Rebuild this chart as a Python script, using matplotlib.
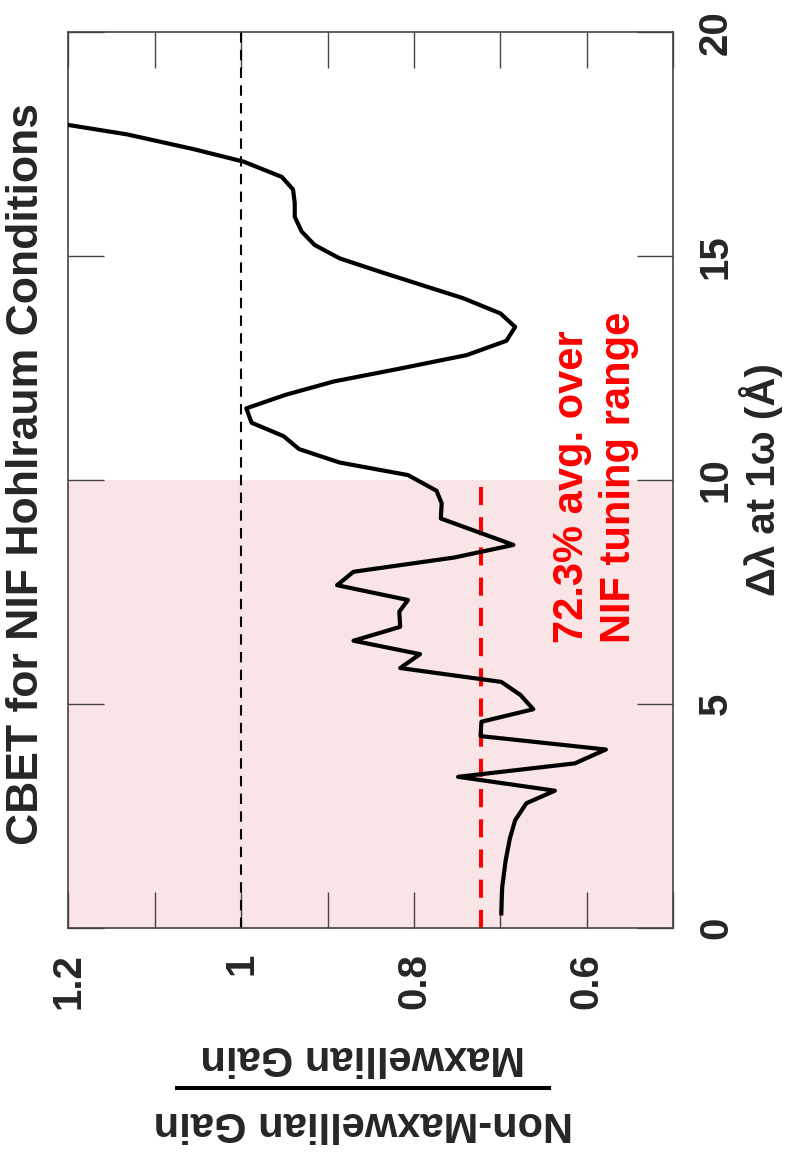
import numpy as np
import matplotlib
matplotlib.use('Agg')
import matplotlib.pyplot as plt
from matplotlib.lines import Line2D

plt.rcParams['font.family'] = ['Liberation Sans', 'DejaVu Sans']
plt.rcParams['font.weight'] = 'bold'

dlam = [0.32, 0.9, 1.5, 2.0, 2.4, 2.78, 3.06, 3.37, 3.67, 3.98, 4.28, 4.60, 4.88,
        5.20, 5.49, 5.80, 6.11, 6.41, 6.72, 7.06, 7.32, 7.65, 7.95, 8.27, 8.55,
        9.14, 9.48, 9.76, 10.11, 10.39, 10.69, 10.98, 11.28, 11.60, 11.90, 12.20,
        12.49, 12.79, 13.11, 13.42, 13.72, 14.06, 14.36, 14.65, 14.95, 15.25,
        15.55, 15.88, 16.19, 16.49, 16.77, 17.11, 17.39, 17.72, 18.02]
gain = [0.699, 0.698, 0.694, 0.689, 0.683, 0.670, 0.637, 0.749, 0.614, 0.578,
        0.723, 0.722, 0.662, 0.677, 0.699, 0.816, 0.793, 0.870, 0.816, 0.817,
        0.807, 0.889, 0.870, 0.753, 0.685, 0.769, 0.768, 0.774, 0.807, 0.886,
        0.933, 0.951, 0.988, 0.994, 0.949, 0.893, 0.816, 0.739, 0.693, 0.683,
        0.700, 0.743, 0.792, 0.839, 0.886, 0.915, 0.930, 0.938, 0.938, 0.940,
        0.953, 0.997, 1.055, 1.132, 1.229]

nif_range = (0, 10)      # NIF tuning range in Angstrom
avg_gain = 0.723         # average gain ratio over the tuning range
xticks = [0.5, 0.6, 0.7, 0.8, 0.9, 1.0, 1.1, 1.2]
xticklabels = ['', '0.6', '', '0.8', '', '1', '', '1.2']
yticks = [0, 5, 10, 15, 20]

W, H = 786, 1155
fig = plt.figure(figsize=(W / 100, H / 100), dpi=100)
ax = fig.add_axes([68.3 / W, 1 - 927.7 / H, 605 / W, 895.4 / H])

txt = '#262626'
ax.axhspan(nif_range[0], nif_range[1], color='#f9e5e5', lw=0, zorder=0)
ax.plot([1.0, 1.0], [0, 20], color='k', lw=1.5, ls=(0, (5, 3.5)), zorder=2)
ax.plot([avg_gain, avg_gain], nif_range, color='#ff0000', lw=2.9,
        ls=(0, (4.5, 3)), zorder=2)
ax.plot(gain, dlam, color='k', lw=3, zorder=3)

ax.set_xlim(1.2, 0.5)
ax.set_ylim(0, 20)
ax.set_xticks(xticks)
ax.set_xticklabels(xticklabels)
ax.set_yticks(yticks)
ax.tick_params(axis='both', direction='in', length=26, width=1.0,
               color='#444444', labelsize=29, labelcolor=txt)
ax.tick_params(axis='x', top=True, bottom=True, labelrotation=90, pad=18)
ax.tick_params(axis='y', left=True, right=True, labelleft=False,
               labelright=True, labelrotation=90, pad=17)
for lab in ax.get_xticklabels():
    lab.set_fontweight('bold')
for lab in ax.get_yticklabels():
    lab.set_fontweight('bold')
    lab.set_verticalalignment('center')
for s in ax.spines.values():
    s.set_color('#444444')
    s.set_linewidth(1.2)

ax.yaxis.set_label_position('right')
ax.set_ylabel('Δλ at 1ω (Å)', fontsize=29, fontweight='bold', color=txt,
              rotation=90, labelpad=3)

ax.text(0.590, 6.35, f'{avg_gain * 100:.1f}% avg. over\nNIF tuning range',
        rotation=90, ha='center', va='bottom', multialignment='left',
        color='#ff0000', fontsize=30, fontweight='bold', zorder=4)

# title and ratio label, drawn in figure coordinates
fig.text(27 / W, 1 - 474 / H, 'CBET for NIF Hohlraum Conditions', rotation=90,
         ha='center', va='center', fontsize=32, fontweight='bold', color=txt)
fig.text(363 / W, 1 - 1057 / H, 'Maxwellian Gain', rotation=180,
         ha='center', va='center', fontsize=30, fontweight='bold', color=txt)
fig.text(363 / W, 1 - 1123 / H, 'Non-Maxwellian Gain', rotation=180,
         ha='center', va='center', fontsize=30, fontweight='bold', color=txt)
fig.add_artist(Line2D([177 / W, 549 / W], [1 - 1088 / H, 1 - 1088 / H],
                      transform=fig.transFigure, color='k', lw=2.9))

fig.savefig('out.png', dpi=100)
